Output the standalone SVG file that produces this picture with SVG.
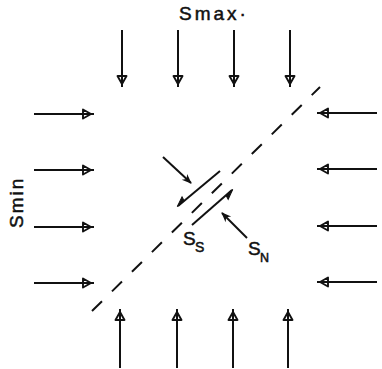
<svg xmlns="http://www.w3.org/2000/svg" width="382" height="369" viewBox="0 0 382 369">
<style>
.sh{stroke:#111;stroke-width:2;fill:none;marker-end:url(#ah)}
.lb{font-family:"Liberation Sans",Arial,sans-serif;fill:#111;stroke:#111;stroke-width:0.5}
.fl{stroke:#111;stroke-width:2;fill:none;marker-end:url(#hh)}
.sa{stroke:#111;stroke-width:2;fill:none;marker-end:url(#fh)}
</style>
<defs>
<marker id="ah" markerUnits="userSpaceOnUse" orient="auto" markerWidth="30" markerHeight="30" refX="0" refY="0" overflow="visible">
<path d="M-11,-4.5 L-3,0 L-11,4.5 Z" fill="none" stroke="#111" stroke-width="1.9" stroke-linejoin="round"/>
</marker>
<marker id="fh" markerUnits="userSpaceOnUse" orient="auto" markerWidth="30" markerHeight="30" refX="0" refY="0" overflow="visible">
<path d="M1,0 L-9,-4 L-6,0 L-9,4 Z" fill="#111"/>
</marker>
<marker id="hh" markerUnits="userSpaceOnUse" orient="auto" markerWidth="30" markerHeight="30" refX="0" refY="0" overflow="visible">
<path d="M1,0 L-9,4.5 L-8,0 Z" fill="#111" stroke="#111" stroke-width="1"/>
</marker>
</defs>
<g id="labels" class="lb">
<text x="179" y="20" font-size="19" letter-spacing="3">Smax·</text>
<text transform="translate(23,228) rotate(-90)" font-size="19" letter-spacing="2">Smin</text>
<text x="183" y="245" font-size="19">S</text>
<text x="195" y="252" font-size="14">S</text>
<text x="248" y="255" font-size="19">S</text>
<text x="260" y="262" font-size="12.5">N</text>
</g>
<g id="connectors">
<g id="top">
<line class="sh" x1="122" y1="30" x2="122" y2="87"/>
<line class="sh" x1="178" y1="30" x2="178" y2="87"/>
<line class="sh" x1="234" y1="30" x2="234" y2="87"/>
<line class="sh" x1="290" y1="30" x2="290" y2="87"/>
</g>
<g id="bottom">
<line class="sh" x1="120" y1="368" x2="120" y2="309"/>
<line class="sh" x1="177" y1="368" x2="177" y2="309"/>
<line class="sh" x1="233" y1="368" x2="233" y2="309"/>
<line class="sh" x1="288" y1="368" x2="288" y2="309"/>
</g>
<g id="left">
<line class="sh" x1="34" y1="114" x2="94" y2="114"/>
<line class="sh" x1="34" y1="170" x2="94" y2="170"/>
<line class="sh" x1="34" y1="227" x2="94" y2="227"/>
<line class="sh" x1="34" y1="283" x2="94" y2="283"/>
</g>
<g id="right">
<line class="sh" x1="377" y1="113" x2="317" y2="113"/>
<line class="sh" x1="377" y1="169" x2="317" y2="169"/>
<line class="sh" x1="377" y1="226" x2="317" y2="226"/>
<line class="sh" x1="377" y1="282" x2="317" y2="282"/>
</g>
</g>
<g id="fault">
<line x1="92" y1="311" x2="320" y2="87" stroke="#111" stroke-width="2" stroke-dasharray="14 14"/>
<line class="fl" x1="220" y1="171" x2="178" y2="206"/>
<line class="fl" x1="192" y1="225" x2="232" y2="190"/>
<line class="sa" x1="163" y1="157" x2="191" y2="183"/>
<line class="sa" x1="247" y1="238" x2="222" y2="213"/>
</g>
</svg>
